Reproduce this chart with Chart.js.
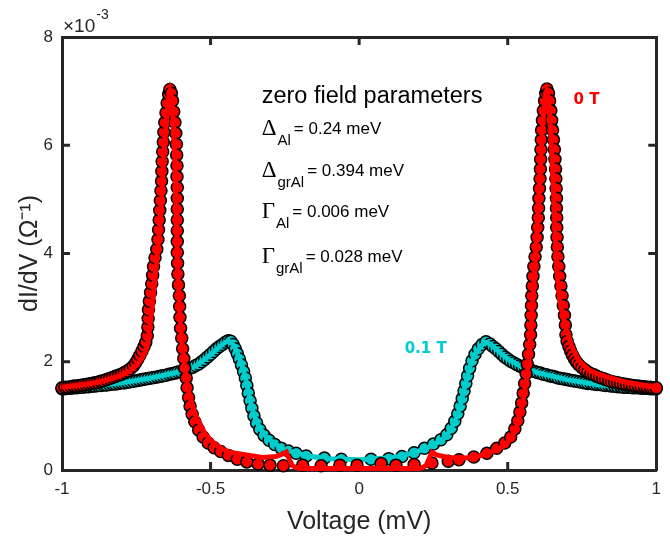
<!DOCTYPE html>
<html><head><meta charset="utf-8">
<script src="https://cdn.jsdelivr.net/npm/chart.js@4.4.1/dist/chart.umd.min.js"></script>
<style>html,body{margin:0;padding:0;background:#fff;}#wrap{width:670px;height:537px;}</style>
</head><body><div id="wrap"><canvas id="c" width="670" height="537"></canvas></div>
<script>
// tick labels
const xTicks = [-1, -0.5, 0, 0.5, 1];
const yTicks = [0, 2, 4, 6, 8];

// measured dI/dV (x10^-3 Ohm^-1) vs voltage (mV), 0 T : [V, dI/dV]
const data0T = [
[-1.00,1.52],[-0.99,1.53],[-0.98,1.53],[-0.97,1.54],[-0.96,1.55],[-0.95,1.55],[-0.94,1.56],[-0.93,1.57],[-0.92,1.58],[-0.91,1.59],
[-0.90,1.60],[-0.89,1.61],[-0.88,1.62],[-0.87,1.64],[-0.86,1.65],[-0.85,1.67],[-0.84,1.69],[-0.83,1.71],[-0.82,1.73],[-0.81,1.75],
[-0.80,1.77],[-0.79,1.80],[-0.78,1.83],[-0.77,1.87],[-0.76,1.92],[-0.752,1.98],[-0.745,2.05],[-0.738,2.12],[-0.731,2.20],[-0.724,2.28],
[-0.718,2.36],[-0.713,2.48],[-0.711,2.64],[-0.710,2.80],[-0.709,2.96],[-0.706,3.12],[-0.702,3.28],[-0.698,3.44],[-0.695,3.60],[-0.692,3.76],
[-0.687,3.92],[-0.681,4.08],[-0.677,4.26],[-0.675,4.44],[-0.673,4.62],[-0.671,4.80],[-0.669,4.98],[-0.667,5.16],[-0.665,5.34],[-0.664,5.52],
[-0.663,5.70],[-0.661,5.88],[-0.659,6.06],[-0.657,6.24],[-0.654,6.42],[-0.650,6.60],[-0.646,6.78],[-0.641,6.94],[-0.637,7.03],[-0.632,6.96],
[-0.628,6.82],[-0.624,6.62],[-0.620,6.42],[-0.617,6.22],[-0.615,6.02],[-0.614,5.82],[-0.613,5.62],[-0.613,5.42],[-0.612,5.22],[-0.612,5.02],
[-0.612,4.82],[-0.612,4.62],[-0.612,4.42],[-0.612,4.22],[-0.612,4.02],[-0.611,3.82],[-0.610,3.62],[-0.608,3.42],[-0.605,3.22],[-0.604,3.02],
[-0.603,2.82],[-0.601,2.62],[-0.597,2.44],[-0.594,2.24],[-0.590,2.06],[-0.587,1.88],[-0.582,1.70],[-0.579,1.52],[-0.574,1.34],[-0.569,1.18],
[-0.562,1.03],[-0.553,0.89],[-0.540,0.74],[-0.525,0.61],[-0.508,0.50],[-0.488,0.41],[-0.466,0.34],[-0.440,0.27],[-0.410,0.20],[-0.378,0.15],
[-0.340,0.11],[-0.300,0.09],[-0.255,0.08],[-0.190,0.09],[-0.128,0.08],[-0.065,0.09],[-0.007,0.09],[0.074,0.12],[0.124,0.09],[0.185,0.10],
[0.245,0.13],[0.300,0.16],[0.336,0.19],[0.386,0.24],[0.430,0.31],[0.463,0.40],[0.490,0.50],[0.510,0.61],[0.524,0.76],[0.534,0.91],
[0.541,1.07],[0.547,1.24],[0.552,1.42],[0.557,1.60],[0.562,1.78],[0.566,1.96],[0.570,2.14],[0.574,2.32],[0.577,2.50],[0.578,2.68],
[0.579,2.86],[0.580,3.04],[0.581,3.22],[0.583,3.40],[0.585,3.58],[0.588,3.76],[0.592,3.94],[0.596,4.12],[0.599,4.30],[0.601,4.48],
[0.603,4.66],[0.604,4.84],[0.605,5.02],[0.607,5.20],[0.609,5.38],[0.610,5.56],[0.611,5.74],[0.612,5.92],[0.613,6.10],[0.614,6.28],
[0.617,6.46],[0.620,6.64],[0.624,6.82],[0.628,6.96],[0.632,7.04],[0.637,6.96],[0.641,6.82],[0.645,6.64],[0.648,6.46],[0.651,6.28],
[0.654,6.10],[0.657,5.92],[0.659,5.74],[0.661,5.56],[0.662,5.38],[0.663,5.20],[0.664,5.02],[0.664,4.84],[0.665,4.66],[0.665,4.48],
[0.666,4.30],[0.667,4.12],[0.669,3.94],[0.672,3.76],[0.675,3.58],[0.679,3.40],[0.683,3.22],[0.687,3.04],[0.691,2.86],[0.694,2.68],
[0.696,2.50],[0.700,2.38],[0.706,2.28],[0.712,2.20],[0.718,2.12],[0.725,2.05],[0.732,1.99],[0.740,1.94],[0.750,1.89],[0.760,1.85],
[0.770,1.81],[0.780,1.78],[0.790,1.76],[0.800,1.73],[0.810,1.71],[0.820,1.69],[0.830,1.67],[0.840,1.65],[0.850,1.63],[0.860,1.62],
[0.870,1.61],[0.880,1.60],[0.890,1.59],[0.900,1.58],[0.910,1.57],[0.920,1.56],[0.930,1.55],[0.940,1.55],[0.950,1.54],[0.960,1.54],
[0.970,1.53],[0.980,1.53],[0.990,1.52],[1.000,1.52]
];

// measured, 0.1 T : [V, dI/dV]
const data01T = [
[-1.00,1.50],[-0.99,1.50],[-0.98,1.51],[-0.97,1.51],[-0.96,1.52],[-0.95,1.52],[-0.94,1.53],[-0.93,1.53],[-0.92,1.54],[-0.91,1.54],
[-0.90,1.55],[-0.89,1.55],[-0.88,1.56],[-0.87,1.56],[-0.86,1.57],[-0.85,1.57],[-0.84,1.58],[-0.83,1.59],[-0.82,1.59],[-0.81,1.60],
[-0.80,1.61],[-0.79,1.61],[-0.78,1.62],[-0.77,1.63],[-0.76,1.64],[-0.75,1.65],[-0.74,1.66],[-0.73,1.67],[-0.72,1.68],[-0.71,1.69],
[-0.70,1.70],[-0.69,1.71],[-0.68,1.72],[-0.67,1.73],[-0.66,1.74],[-0.65,1.75],[-0.64,1.77],[-0.63,1.78],[-0.62,1.79],[-0.61,1.81],
[-0.60,1.82],[-0.59,1.84],[-0.58,1.86],[-0.57,1.88],[-0.56,1.90],[-0.55,1.93],[-0.54,1.96],[-0.53,2.00],[-0.52,2.04],[-0.51,2.09],
[-0.50,2.14],[-0.49,2.19],[-0.48,2.24],[-0.47,2.28],[-0.46,2.32],[-0.45,2.36],[-0.44,2.39],[-0.432,2.38],[-0.424,2.32],[-0.417,2.24],
[-0.410,2.15],[-0.403,2.05],[-0.396,1.94],[-0.389,1.82],[-0.383,1.70],[-0.378,1.56],[-0.373,1.42],[-0.367,1.28],[-0.361,1.14],[-0.354,1.00],
[-0.345,0.87],[-0.334,0.75],[-0.320,0.64],[-0.303,0.55],[-0.284,0.47],[-0.262,0.40],[-0.238,0.35],[-0.212,0.31],[-0.178,0.26],[-0.117,0.22],
[-0.060,0.20],[0.040,0.20],[0.100,0.21],[0.144,0.25],[0.185,0.32],[0.220,0.40],[0.250,0.48],[0.275,0.56],[0.295,0.65],[0.310,0.77],
[0.322,0.90],[0.332,1.04],[0.340,1.18],[0.347,1.32],[0.353,1.46],[0.359,1.60],[0.365,1.74],[0.372,1.88],[0.380,2.02],[0.390,2.14],
[0.401,2.24],[0.414,2.32],[0.427,2.37],[0.440,2.33],[0.450,2.28],[0.46,2.24],[0.47,2.19],[0.48,2.14],[0.49,2.09],[0.50,2.05],
[0.51,2.01],[0.52,1.98],[0.53,1.95],[0.54,1.92],[0.55,1.90],[0.56,1.88],[0.57,1.86],[0.58,1.84],[0.59,1.82],[0.60,1.80],
[0.61,1.79],[0.62,1.77],[0.63,1.76],[0.64,1.74],[0.65,1.73],[0.66,1.72],[0.67,1.70],[0.68,1.69],[0.69,1.68],[0.70,1.67],
[0.71,1.66],[0.72,1.65],[0.73,1.64],[0.74,1.63],[0.75,1.62],[0.76,1.61],[0.77,1.60],[0.78,1.60],[0.79,1.59],[0.80,1.58],
[0.81,1.58],[0.82,1.57],[0.83,1.56],[0.84,1.56],[0.85,1.55],[0.86,1.55],[0.87,1.54],[0.88,1.54],[0.89,1.53],[0.90,1.53],
[0.91,1.53],[0.92,1.52],[0.93,1.52],[0.94,1.52],[0.95,1.51],[0.96,1.51],[0.97,1.51],[0.98,1.50],[0.99,1.50],[1.00,1.50]
];

// model fit, 0 T
const fit0T = [
[-1.00,1.53],[-0.95,1.56],[-0.90,1.60],[-0.85,1.66],[-0.80,1.75],[-0.77,1.84],[-0.745,1.96],[-0.73,2.07],[-0.72,2.18],[-0.712,2.32],
[-0.706,2.60],[-0.697,3.00],[-0.688,3.50],[-0.679,4.00],[-0.671,4.50],[-0.664,5.10],[-0.658,5.70],[-0.652,6.20],[-0.646,6.60],[-0.640,6.90],
[-0.636,7.00],[-0.631,6.90],[-0.627,6.60],[-0.623,6.10],[-0.619,5.50],[-0.616,4.80],[-0.613,4.10],[-0.609,3.50],[-0.605,3.00],[-0.600,2.60],
[-0.594,2.25],[-0.587,1.90],[-0.578,1.55],[-0.567,1.30],[-0.555,1.08],[-0.545,0.95],[-0.537,0.87],[-0.520,0.68],[-0.500,0.55],[-0.470,0.42],
[-0.436,0.33],[-0.380,0.28],[-0.325,0.23],[-0.280,0.25],[-0.255,0.30],[-0.245,0.33],[-0.235,0.20],[-0.225,0.08],[-0.210,0.04],[-0.200,0.03],
[0.200,0.03],[0.210,0.04],[0.225,0.08],[0.235,0.20],[0.245,0.33],[0.260,0.28],[0.300,0.23],[0.380,0.22],[0.436,0.31],[0.493,0.46],
[0.527,0.74],[0.547,1.16],[0.557,1.45],[0.564,1.70],[0.570,2.00],[0.575,2.35],[0.580,2.75],[0.585,3.20],[0.591,3.70],[0.597,4.30],
[0.603,4.90],[0.609,5.50],[0.615,6.10],[0.621,6.60],[0.626,6.90],[0.631,7.00],[0.636,6.90],[0.641,6.60],[0.646,6.10],[0.651,5.50],
[0.656,4.90],[0.661,4.20],[0.667,3.60],[0.675,3.15],[0.686,2.85],[0.698,2.60],[0.715,2.30],[0.738,2.03],[0.770,1.86],[0.800,1.78],
[0.840,1.71],[0.900,1.62],[0.950,1.57],[1.000,1.53]
];

// model fit, 0.1 T
const fit01T = [
[-1.00,1.50],[-0.90,1.55],[-0.80,1.61],[-0.70,1.70],[-0.60,1.82],[-0.55,1.92],[-0.50,2.13],[-0.47,2.28],[-0.45,2.36],[-0.44,2.38],
[-0.43,2.36],[-0.42,2.28],[-0.41,2.16],[-0.40,2.02],[-0.39,1.86],[-0.38,1.64],[-0.37,1.38],[-0.36,1.13],[-0.35,0.97],[-0.335,0.78],
[-0.31,0.60],[-0.28,0.47],[-0.25,0.38],[-0.21,0.31],[-0.16,0.25],[-0.10,0.21],[0.00,0.19],[0.10,0.22],[0.15,0.27],[0.19,0.33],
[0.23,0.41],[0.26,0.50],[0.29,0.60],[0.31,0.76],[0.325,0.93],[0.335,1.08],[0.345,1.30],[0.355,1.52],[0.365,1.75],[0.375,1.95],
[0.39,2.14],[0.41,2.29],[0.425,2.36],[0.44,2.33],[0.46,2.24],[0.50,2.05],[0.55,1.90],[0.60,1.80],[0.70,1.67],[0.80,1.58],
[0.90,1.53],[1.00,1.50]
];

const AX = '#262626';
const RED = '#ff0000';
const CYAN = '#00cccc';
const SANS = 'Liberation Sans, Arial, sans-serif';
const pts = arr => arr.map(p => ({x: p[0], y: p[1]}));

function line(ctx, x1, y1, x2, y2) { ctx.beginPath(); ctx.moveTo(x1, y1); ctx.lineTo(x2, y2); ctx.stroke(); }

const framePlugin = {
  id: 'frame',
  beforeDatasetsDraw(chart) {
    const {ctx, chartArea: a, scales: {x, y}} = chart;
    ctx.save();
    ctx.strokeStyle = AX; ctx.lineWidth = 3; ctx.lineCap = 'butt';
    xTicks.forEach(v => {
      if (v === xTicks[0] || v === xTicks[xTicks.length - 1]) return;
      const px = x.getPixelForValue(v);
      line(ctx, px, a.bottom, px, a.bottom - 8);
      line(ctx, px, a.top, px, a.top + 8);
    });
    yTicks.forEach(v => {
      if (v === yTicks[0] || v === yTicks[yTicks.length - 1]) return;
      const py = y.getPixelForValue(v);
      line(ctx, a.left, py, a.left + 8, py);
      line(ctx, a.right, py, a.right - 8, py);
    });
    ctx.restore();
  },
  afterDatasetsDraw(chart) {
    const {ctx, chartArea: a, scales: {x, y}} = chart;
    ctx.save();
    ctx.textBaseline = 'alphabetic';
    ctx.textAlign = 'left';
    // exponent label
    ctx.fillStyle = AX;
    ctx.font = '19px ' + SANS;
    ctx.fillText('\u00D710', a.left + 1, a.top - 5);
    const w10 = ctx.measureText('\u00D710').width;
    ctx.font = '14px ' + SANS;
    ctx.fillText('-3', a.left + 2 + w10, a.top - 18);

    // parameter block
    const x0 = x.getPixelForValue(-0.328);
    ctx.fillStyle = '#000';
    ctx.font = '23.5px ' + SANS;
    ctx.fillText('zero field parameters', x0, y.getPixelForValue(6.78));
    const rows = [
      ['\u0394', 'Al', '= 0.24 meV', 6.19],
      ['\u0394', 'grAl', '= 0.394 meV', 5.41],
      ['\u0393', 'Al', '= 0.006 meV', 4.66],
      ['\u0393', 'grAl', '= 0.028 meV', 3.82]
    ];
    rows.forEach(r => {
      const b = y.getPixelForValue(r[3]);
      ctx.font = '23px Liberation Serif, serif';
      ctx.fillText(r[0], x0, b);
      const wg = ctx.measureText(r[0]).width;
      ctx.font = '15px ' + SANS;
      ctx.fillText(r[1], x0 + wg + 1, b + 10);
      const ws = ctx.measureText(r[1]).width;
      ctx.font = '17px ' + SANS;
      ctx.fillText(r[2], x0 + wg + ws + 4, b - 1);
    });

    // field labels
    ctx.textAlign = 'center';
    ctx.textBaseline = 'middle';
    ctx.font = 'bold 15px DejaVu Sans, sans-serif';
    ctx.fillStyle = RED;
    ctx.fillText('0 T', x.getPixelForValue(0.765), y.getPixelForValue(6.84));
    ctx.fillStyle = CYAN;
    ctx.fillText('0.1 T', x.getPixelForValue(0.224), y.getPixelForValue(2.24));
    ctx.restore();
  }
};

new Chart(document.getElementById('c'), {
  type: 'scatter',
  data: {
    datasets: [
      {label: '0 T fit', data: pts(fit0T), showLine: true, borderColor: RED, borderWidth: 5, pointRadius: 0, fill: false, clip: false, tension: 0, order: 0},
      {label: '0 T', data: pts(data0T), showLine: false, pointRadius: 6, pointBackgroundColor: RED, pointBorderColor: '#000', pointBorderWidth: 1.5, clip: false, order: 1},
      {label: '0.1 T fit', data: pts(fit01T), showLine: true, borderColor: CYAN, borderWidth: 5, pointRadius: 0, fill: false, clip: false, tension: 0, order: 2},
      {label: '0.1 T', data: pts(data01T), showLine: false, pointRadius: 6, pointBackgroundColor: CYAN, pointBorderColor: '#000', pointBorderWidth: 1.5, clip: false, order: 3}
    ]
  },
  options: {
    responsive: false, animation: false, devicePixelRatio: 1,
    layout: {padding: {left: 0, top: 37, right: 13, bottom: 0}},
    plugins: {legend: {display: false}, tooltip: {enabled: false}},
    scales: {
      x: {
        type: 'linear', position: 'bottom', min: -1, max: 1,
        afterBuildTicks: s => { s.ticks = xTicks.map(v => ({value: v})); },
        ticks: {font: {family: SANS, size: 17}, color: AX, padding: 9, autoSkip: false, maxRotation: 0, callback: v => String(v)},
        grid: {display: false, drawTicks: false},
        border: {display: true, color: AX, width: 3},
        title: {display: true, text: 'Voltage (mV)', font: {family: SANS, size: 25}, color: AX, padding: {top: 0, bottom: 0}},
        afterFit: s => { s.height = 67; }
      },
      y: {
        type: 'linear', position: 'left', min: 0, max: 8,
        afterBuildTicks: s => { s.ticks = yTicks.map(v => ({value: v})); },
        ticks: {font: {family: SANS, size: 17}, color: AX, padding: 9, callback: v => String(v)},
        grid: {display: false, drawTicks: false},
        border: {display: true, color: AX, width: 3},
        title: {display: true, text: 'dI/dV (\u03A9\u207B\u00B9)', font: {family: SANS, size: 25}, color: AX, padding: {top: 15, bottom: 0}},
        afterFit: s => { s.width = 62; }
      },
      x2: {
        type: 'linear', position: 'top', min: -1, max: 1,
        ticks: {display: false}, grid: {display: false, drawTicks: false},
        border: {display: true, color: AX, width: 3},
        afterFit: s => { s.height = 0; }
      },
      y2: {
        type: 'linear', position: 'right', min: 0, max: 8,
        ticks: {display: false}, grid: {display: false, drawTicks: false},
        border: {display: true, color: AX, width: 3},
        afterFit: s => { s.width = 0; }
      }
    }
  },
  plugins: [framePlugin]
});
</script>
</body></html>
